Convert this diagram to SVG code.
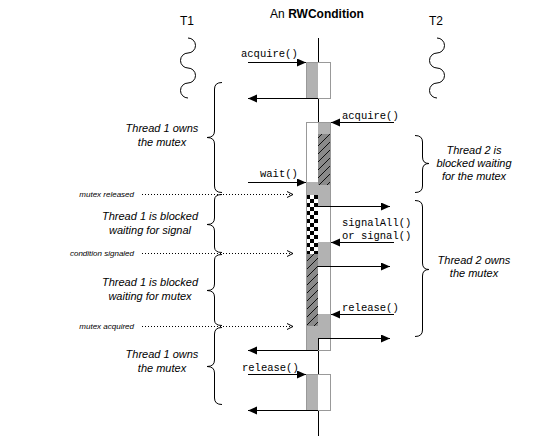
<svg xmlns="http://www.w3.org/2000/svg" width="540" height="436" viewBox="0 0 540 436">
<style>
.t{font-family:"Liberation Sans",Arial,sans-serif;fill:#000}
.it{font-family:"Liberation Sans",Arial,sans-serif;font-style:italic;font-size:11px;text-anchor:middle;fill:#000}
.sm{font-family:"Liberation Sans",Arial,sans-serif;font-style:italic;font-size:8px;text-anchor:end;fill:#000}
.code{font-family:"Liberation Mono","Courier New",monospace;font-size:10.5px;fill:#000}
.ln{stroke:#000;stroke-width:1;fill:none}
.arr{stroke:#000;stroke-width:1;fill:none;marker-end:url(#ah)}
.dot{stroke:#000;stroke-width:1;fill:none;stroke-dasharray:1 2;marker-end:url(#oh)}
.br{stroke:#000;stroke-width:1;fill:none}
.g{fill:#b2b2b2}
.box{fill:none;stroke:#999;stroke-width:1}
</style>
<defs>
<marker id="ah" markerUnits="userSpaceOnUse" markerWidth="10" markerHeight="9" refX="9" refY="4" orient="auto">
<path d="M0,0 L9,4 L0,8 z" fill="#000"/>
</marker>
<marker id="oh" markerUnits="userSpaceOnUse" markerWidth="8" markerHeight="8" refX="6" refY="3.5" orient="auto">
<path d="M0,0.5 L6,3.5 L0,6.5" fill="none" stroke="#000" stroke-width="1"/>
</marker>
<pattern id="hatch" patternUnits="userSpaceOnUse" x="0" y="0" width="8" height="8">
<rect width="8" height="8" fill="#8a8a8a"/>
<path d="M-1,9 L9,-1 M-1,1 L1,-1 M7,9 L9,7" stroke="#000" stroke-width="0.9"/>
</pattern>
<pattern id="check" patternUnits="userSpaceOnUse" x="306" y="195" width="8" height="8">
<rect width="8" height="8" fill="#fff"/>
<rect width="4" height="4" fill="#000"/>
<rect x="4" y="4" width="4" height="4" fill="#000"/>
</pattern>
</defs>
<rect width="540" height="436" fill="#fff"/>

<g id="title">
<text class="t" x="317" y="18" font-size="12" text-anchor="middle">An <tspan font-weight="bold">RWCondition</tspan></text>
</g>

<g id="T1">
<text class="t" x="187" y="25" font-size="12" text-anchor="middle">T1</text>
<path class="ln" d="M188,38 A7.5,7.5 0 0 1 188,53 A7.5,7.5 0 0 0 188,68 A7.5,7.5 0 0 1 188,83 A7.5,7.5 0 0 0 188,98"/>
</g>
<g id="T2">
<text class="t" x="436" y="25" font-size="12" text-anchor="middle">T2</text>
<path class="ln" d="M437,38 A7.5,7.5 0 0 1 437,53 A7.5,7.5 0 0 0 437,68 A7.5,7.5 0 0 1 437,83 A7.5,7.5 0 0 0 437,98"/>
</g>

<g id="lifeline">
<path class="ln" d="M318.5,38 V62 M318.5,98 V122 M318.5,338 V374 M318.5,410 V436"/>
</g>

<g id="bar1">
<rect class="g" x="306" y="62" width="12" height="36"/>
<rect class="box" x="306.5" y="62.5" width="24" height="36"/>
</g>

<g id="bar2">
<rect x="306" y="122" width="24" height="228" fill="#fff"/>
<rect class="g" x="306" y="182" width="12" height="13"/>
<rect x="306" y="195" width="12" height="59" fill="url(#check)"/>
<rect x="306" y="254" width="12" height="72" fill="url(#hatch)"/>
<rect class="g" x="306" y="326" width="12" height="24"/>
<rect class="g" x="318" y="122" width="12" height="12"/>
<rect x="318" y="134" width="12" height="51" fill="url(#hatch)"/>
<rect class="g" x="318" y="185" width="12" height="21"/>
<rect class="g" x="318" y="242" width="12" height="24"/>
<rect class="g" x="318" y="314" width="12" height="24"/>
<path class="ln" d="M318.5,338 V350"/>
<rect class="box" x="306.5" y="122.5" width="24" height="228"/>
</g>

<g id="bar3">
<rect class="g" x="306" y="374" width="12" height="36"/>
<rect class="box" x="306.5" y="374.5" width="24" height="36"/>
</g>

<g id="connectors">
<path class="arr" d="M248,62.5 H306"/>
<path class="arr" d="M318,98.5 H248"/>
<path class="arr" d="M394,122.5 H331"/>
<path class="arr" d="M248,182.5 H306"/>
<path class="arr" d="M318,206.5 H390"/>
<path class="arr" d="M394,242.5 H331"/>
<path class="arr" d="M318,266.5 H390"/>
<path class="arr" d="M394,314.5 H331"/>
<path class="arr" d="M318,338.5 H390"/>
<path class="arr" d="M318,350.5 H248"/>
<path class="arr" d="M248,374.5 H306"/>
<path class="arr" d="M318,410.5 H248"/>
<path class="dot" d="M142,194.5 H293"/>
<path class="dot" d="M142,253.5 H293"/>
<path class="dot" d="M142,326.5 H293"/>
</g>

<g id="code-labels">
<text class="code" x="241" y="57">acquire()</text>
<text class="code" x="342" y="119">acquire()</text>
<text class="code" x="260" y="177">wait()</text>
<text class="code" x="342" y="226">signalAll()</text>
<text class="code" x="342" y="239">or signal()</text>
<text class="code" x="342" y="311">release()</text>
<text class="code" x="242" y="371">release()</text>
</g>

<g id="event-labels">
<text class="sm" x="134" y="197">mutex released</text>
<text class="sm" x="134" y="256">condition signaled</text>
<text class="sm" x="134" y="329">mutex acquired</text>
</g>

<g id="t1-brace-1">
<path class="br" d="M222,82.5 Q214.5,82.5 214.5,89 L214.5,131 Q214.5,137.5 207,137.5 Q214.5,137.5 214.5,144 L214.5,186 Q214.5,192.5 222,192.5"/>
<text class="it" x="162" y="132">Thread 1 owns</text>
<text class="it" x="162" y="146">the mutex</text>
</g>
<g id="t1-brace-2">
<path class="br" d="M222,194.5 Q214.5,194.5 214.5,200 L214.5,218 Q214.5,224.5 207,224.5 Q214.5,224.5 214.5,231 L214.5,247 Q214.5,252.5 222,252.5"/>
<text class="it" x="150" y="220">Thread 1 is blocked</text>
<text class="it" x="150" y="234">waiting for signal</text>
</g>
<g id="t1-brace-3">
<path class="br" d="M222,254.5 Q214.5,254.5 214.5,260 L214.5,284 Q214.5,290.5 207,290.5 Q214.5,290.5 214.5,297 L214.5,320 Q214.5,325.5 222,325.5"/>
<text class="it" x="150" y="286">Thread 1 is blocked</text>
<text class="it" x="150" y="300">waiting for mutex</text>
</g>
<g id="t1-brace-4">
<path class="br" d="M222,327.5 Q214.5,327.5 214.5,334 L214.5,360 Q214.5,366.5 207,366.5 Q214.5,366.5 214.5,373 L214.5,398 Q214.5,404.5 222,404.5"/>
<text class="it" x="162" y="358">Thread 1 owns</text>
<text class="it" x="162" y="372">the mutex</text>
</g>

<g id="t2-brace-1">
<path class="br" d="M415,135.5 Q422.5,135.5 422.5,142 L422.5,157 Q422.5,163.5 429,163.5 Q422.5,163.5 422.5,170 L422.5,186 Q422.5,192.5 415,192.5"/>
<text class="it" x="474" y="154">Thread 2 is</text>
<text class="it" x="474" y="167">blocked waiting</text>
<text class="it" x="474" y="180">for the mutex</text>
</g>
<g id="t2-brace-2">
<path class="br" d="M415,200.5 Q422.5,200.5 422.5,207 L422.5,263 Q422.5,269.5 429,269.5 Q422.5,269.5 422.5,276 L422.5,330 Q422.5,336.5 415,336.5"/>
<text class="it" x="474" y="264">Thread 2 owns</text>
<text class="it" x="474" y="277">the mutex</text>
</g>
</svg>
